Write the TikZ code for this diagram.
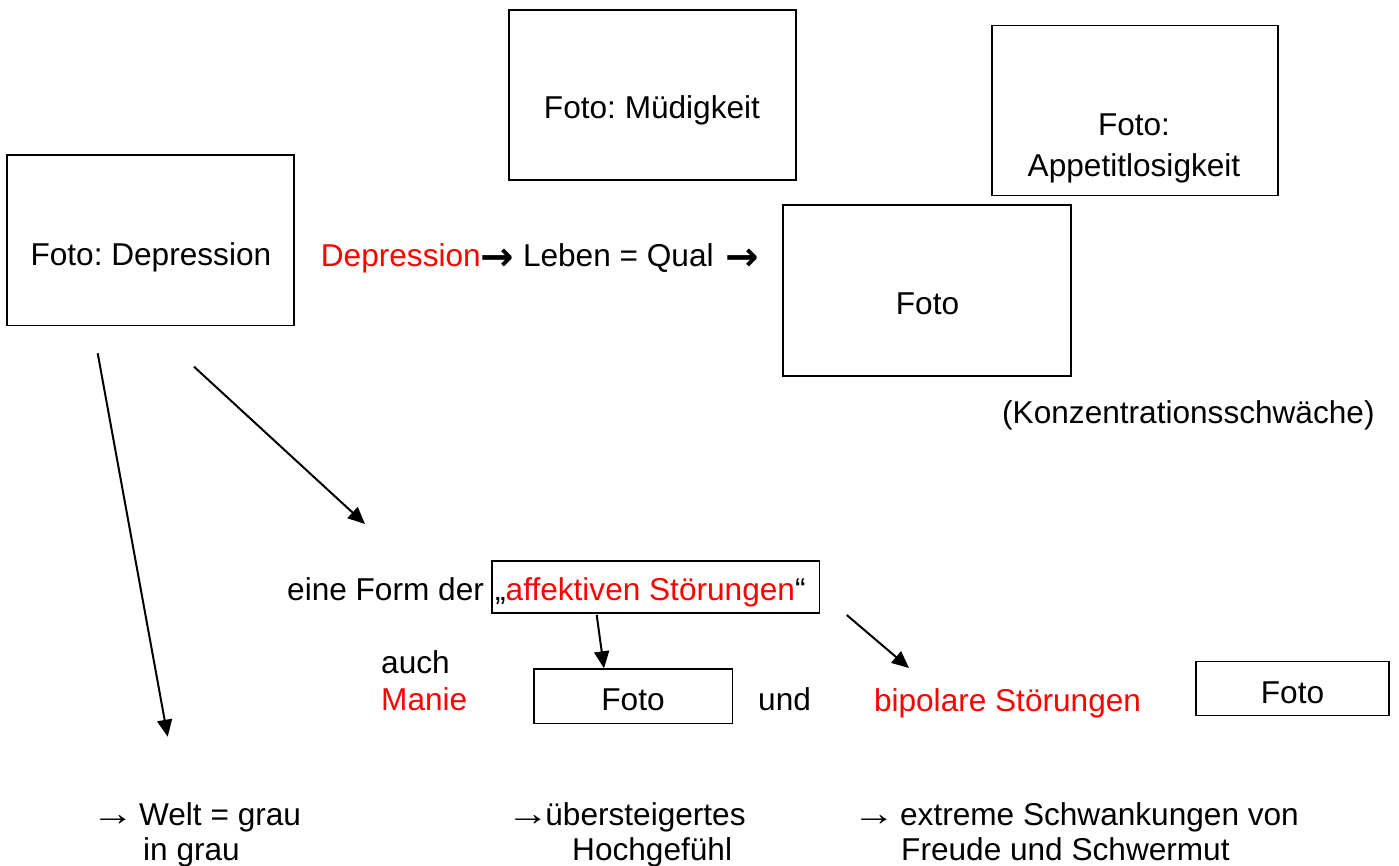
\documentclass[tikz,border=0pt]{standalone}
\usepackage{fontspec}
\usepackage{graphicx}
\setmainfont{Liberation Sans}
\newfontfamily\arrfont{DejaVu Sans}
\newcommand\myarr{\hspace{-6.5pt}\scalebox{1.35}[1.1]{→}\hspace{-4pt}}
\newcommand\myarrb{\raisebox{-4pt}{\fontsize{40}{40}\selectfont\arrfont\bfseries →}}
\frenchspacing
\usetikzlibrary{arrows.meta}
\begin{document}
\begin{tikzpicture}[x=1pt,y=-1pt,
  box/.style={draw, line width=1.6pt, inner sep=0pt, rectangle},
  txt/.style={inner sep=0pt, font=\fontsize{31.6}{36}\selectfont, anchor=base},
  txtl/.style={txt, anchor=base west},
  arr/.style={line width=2pt, -{Triangle[length=17pt,width=15pt]}}]
\useasboundingbox (0,0) rectangle (1399,866);

% boxes
\node[box, minimum width=287.3pt, minimum height=170.7pt] (bDep)  at (150.35,240.35) {};
\node[box, minimum width=286.7pt, minimum height=170pt]   (bMued) at (652.35,95) {};
\node[box, minimum width=286pt,   minimum height=170pt]   (bApp)  at (1134.7,110.7) {};
\node[box, minimum width=288pt,   minimum height=170.7pt] (bKonz) at (927,290.35) {};
\node[box, minimum width=327.6pt, minimum height=51.7pt]  (bAff)  at (655.5,586.85) {};
\node[box, minimum width=198.3pt, minimum height=54.3pt]  (bMan)  at (633.15,696.15) {};
\node[box, minimum width=193pt,   minimum height=53.9pt]  (bBip)  at (1292.5,688.35) {};

% texts
\node[txt] (tDep) at (150.9,266) {Foto: Depression};
\node[txt] (tMued) at (652,118.3) {Foto: Müdigkeit};
\node[txt] (tApp1) at (1134,136) {Foto:};
\node[txt] (tApp2) at (1134,176.7) {Appetitlosigkeit};
\node[txtl] (tLine) at (320.7,266.7) {\textcolor{red}{Depression}\myarrb{} Leben = Qual \hspace{3pt}\myarrb};
\node[txt] (tKonz) at (927.5,315) {Foto};
\node[txtl] (tKonz2) at (1002,423) {(Konzentrationsschwäche)};
\node[txtl] (tForm) at (287,600) {eine Form der};
\node[txtl] (tAff) at (495,600) {„\textcolor{red}{affektiven Störungen}“};
\node[txtl] (tAuch) at (381,673) {auch};
\node[txtl] (tManie) at (381,710) {\textcolor{red}{Manie}};
\node[txt] (tMan) at (633,710) {Foto};
\node[txtl] (tUnd) at (758,710) {und};
\node[txtl] (tBip) at (873.8,711) {\textcolor{red}{bipolare Störungen}};
\node[txt] (tBipF) at (1292.5,703) {Foto};
\node[txtl] (tWelt1) at (98,825) {\myarr{} Welt = grau};
\node[txtl] (tWelt2) at (143,860) {in grau};
\node[txtl] (tHoch1) at (513,825) {\myarr übersteigertes};
\node[txtl] (tHoch2) at (572,860) {Hochgefühl};
\node[txtl] (tSchw1) at (859,825) {\myarr{} extreme Schwankungen von};
\node[txtl] (tSchw2) at (901,860) {Freude und Schwermut};

% arrow end points
\coordinate (a1s) at (97.7,353.3);
\coordinate (a1e) at (167.7,736.7);
\coordinate (a2s) at (194,366.7);
\coordinate (a2e) at (365,524);
\coordinate (a3s) at (596.7,615);
\coordinate (a3e) at (604,668.3);
\coordinate (a4s) at (846.7,615);
\coordinate (a4e) at (909,668);

\draw[arr] (a1s) -- (a1e);
\draw[arr] (a2s) -- (a2e);
\draw[arr] (a3s) -- (a3e);
\draw[arr] (a4s) -- (a4e);
\end{tikzpicture}
\end{document}
